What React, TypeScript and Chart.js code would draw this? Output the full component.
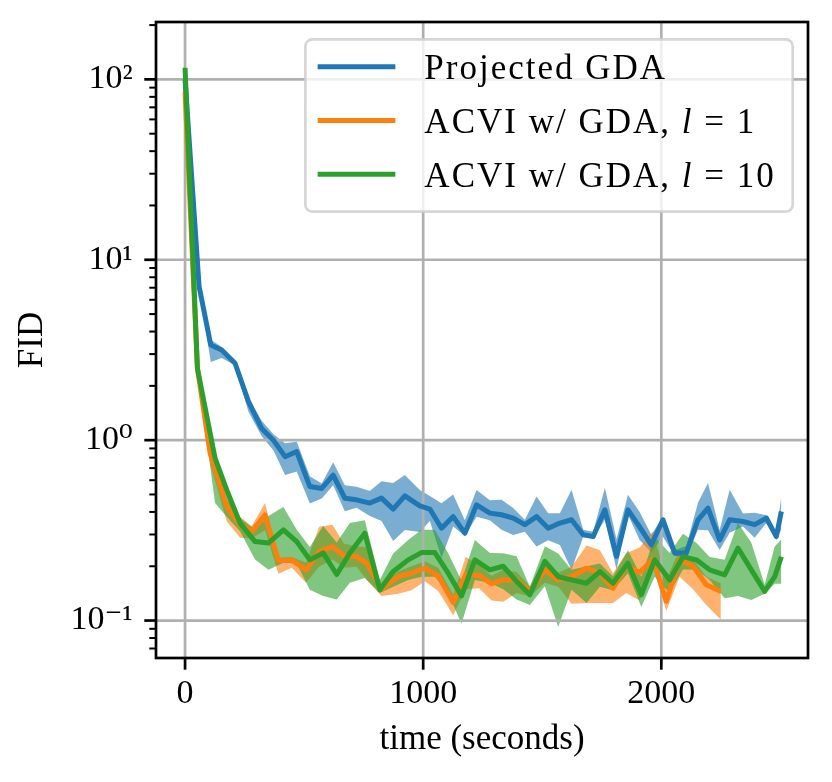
import React, { useEffect, useRef } from 'react';
import { Chart, registerables } from 'chart.js';

Chart.register(...registerables);

const SERIF = '"Liberation Serif", "DejaVu Serif", "Times New Roman", serif';

// ---------------- data ----------------
const seriesLabels = ['Projected GDA', 'ACVI w/ GDA, l = 1', 'ACVI w/ GDA, l = 10'];
const lineColors = ['#1f77b4', '#ff7f0e', '#2ca02c'];
const bandColors = ['rgba(31,119,180,0.6)', 'rgba(255,127,14,0.6)', 'rgba(44,160,44,0.6)'];

const xTicks = [0, 1000, 2000];
const yMajorTicks = [0.1, 1, 10, 100];
const yTickLabels = ['10⁻¹', '10⁰', '10¹', '10²'];
const xLabel = 'time (seconds)';
const yLabel = 'FID';

const blueT = [0, 59, 108, 154, 210, 266, 322, 371, 420, 469, 524, 574, 622, 671, 720, 776, 825, 874, 923, 986, 1028, 1077, 1126, 1175, 1224, 1280, 1329, 1378, 1427, 1476, 1525, 1574, 1623, 1672, 1714, 1763, 1812, 1860, 1909, 1958, 2007, 2056, 2105, 2154, 2196, 2245, 2287, 2343, 2392, 2441, 2483, 2504];
const blueMean = [100, 7.1, 3.37, 3.16, 2.67, 1.64, 1.16, 1.0, 0.81, 0.865, 0.553, 0.54, 0.64, 0.477, 0.467, 0.448, 0.477, 0.415, 0.491, 0.432, 0.415, 0.325, 0.377, 0.305, 0.438, 0.394, 0.386, 0.37, 0.34, 0.377, 0.325, 0.347, 0.362, 0.299, 0.292, 0.411, 0.227, 0.411, 0.33, 0.263, 0.362, 0.237, 0.237, 0.362, 0.42, 0.28, 0.362, 0.354, 0.34, 0.37, 0.292, 0.402];
const blueUpper = [102, 7.3, 3.6, 3.28, 2.74, 1.72, 1.28, 1.08, 0.96, 0.98, 0.63, 0.575, 0.755, 0.563, 0.551, 0.522, 0.592, 0.578, 0.64, 0.53, 0.49, 0.447, 0.5, 0.36, 0.53, 0.465, 0.467, 0.42, 0.362, 0.487, 0.394, 0.394, 0.531, 0.319, 0.311, 0.544, 0.282, 0.498, 0.4, 0.299, 0.376, 0.246, 0.259, 0.45, 0.578, 0.318, 0.531, 0.392, 0.396, 0.384, 0.303, 0.487];
const blueLower = [98, 6.9, 2.71, 2.85, 2.6, 1.44, 1.05, 0.88, 0.64, 0.67, 0.445, 0.475, 0.563, 0.404, 0.422, 0.38, 0.356, 0.276, 0.318, 0.31, 0.356, 0.222, 0.332, 0.294, 0.376, 0.36, 0.319, 0.298, 0.311, 0.257, 0.279, 0.262, 0.191, 0.291, 0.285, 0.362, 0.192, 0.386, 0.28, 0.238, 0.291, 0.228, 0.228, 0.319, 0.317, 0.246, 0.307, 0.332, 0.288, 0.347, 0.281, 0.32];

const orangeT = [0, 52, 105, 175, 231, 280, 336, 392, 448, 508, 563, 619, 667, 720, 766, 825, 895, 951, 1007, 1063, 1126, 1179, 1235, 1287, 1336, 1392, 1448, 1511, 1567, 1623, 1686, 1742, 1797, 1853, 1909, 1965, 2021, 2077, 2133, 2189, 2250];
const orangeMean = [85, 2.5, 0.85, 0.43, 0.34, 0.312, 0.385, 0.215, 0.217, 0.191, 0.241, 0.257, 0.229, 0.226, 0.206, 0.15, 0.175, 0.183, 0.195, 0.177, 0.126, 0.18, 0.178, 0.16, 0.168, 0.168, 0.145, 0.191, 0.168, 0.175, 0.195, 0.183, 0.151, 0.2, 0.185, 0.218, 0.128, 0.217, 0.2, 0.158, 0.145];
const orangeUpper = [86, 2.56, 0.906, 0.47, 0.376, 0.333, 0.449, 0.223, 0.225, 0.209, 0.331, 0.34, 0.267, 0.257, 0.256, 0.16, 0.187, 0.2, 0.213, 0.196, 0.139, 0.226, 0.202, 0.177, 0.191, 0.186, 0.155, 0.217, 0.184, 0.199, 0.261, 0.245, 0.183, 0.236, 0.254, 0.312, 0.169, 0.247, 0.219, 0.175, 0.161];
const orangeLower = [84, 2.44, 0.748, 0.355, 0.288, 0.285, 0.318, 0.182, 0.196, 0.162, 0.199, 0.218, 0.196, 0.199, 0.166, 0.137, 0.141, 0.147, 0.165, 0.146, 0.107, 0.149, 0.151, 0.129, 0.127, 0.142, 0.136, 0.162, 0.154, 0.124, 0.125, 0.125, 0.125, 0.142, 0.129, 0.2, 0.113, 0.175, 0.149, 0.122, 0.101];

const greenT = [0, 52, 126, 175, 231, 294, 350, 413, 469, 524, 580, 637, 692, 755, 818, 874, 937, 993, 1049, 1105, 1161, 1217, 1280, 1336, 1392, 1448, 1511, 1567, 1623, 1686, 1742, 1797, 1860, 1916, 1972, 2035, 2091, 2147, 2203, 2266, 2322, 2378, 2434, 2476, 2504];
const greenMean = [116, 2.5, 0.795, 0.53, 0.347, 0.274, 0.269, 0.318, 0.274, 0.217, 0.237, 0.18, 0.237, 0.305, 0.148, 0.187, 0.217, 0.238, 0.238, 0.183, 0.137, 0.217, 0.191, 0.2, 0.165, 0.139, 0.213, 0.175, 0.168, 0.161, 0.187, 0.161, 0.208, 0.139, 0.217, 0.168, 0.226, 0.217, 0.191, 0.179, 0.252, 0.191, 0.145, 0.175, 0.226];
const greenUpper = [118, 2.6, 0.816, 0.551, 0.37, 0.319, 0.38, 0.426, 0.319, 0.256, 0.334, 0.271, 0.347, 0.36, 0.168, 0.235, 0.28, 0.319, 0.319, 0.236, 0.166, 0.28, 0.237, 0.236, 0.227, 0.154, 0.258, 0.235, 0.191, 0.2, 0.207, 0.176, 0.245, 0.175, 0.291, 0.237, 0.303, 0.27, 0.225, 0.217, 0.347, 0.27, 0.158, 0.257, 0.281];
const greenLower = [114, 2.4, 0.448, 0.376, 0.313, 0.218, 0.191, 0.209, 0.207, 0.148, 0.137, 0.131, 0.162, 0.172, 0.142, 0.154, 0.168, 0.175, 0.175, 0.142, 0.096, 0.168, 0.162, 0.149, 0.131, 0.122, 0.155, 0.092, 0.148, 0.125, 0.154, 0.147, 0.183, 0.119, 0.175, 0.142, 0.192, 0.191, 0.168, 0.133, 0.137, 0.13, 0.141, 0.16, 0.16];

// ---------------- helpers ----------------
const pts = (t: number[], v: number[]) => t.map((x, i) => ({ x, y: v[i] }));

function makeSeries(idx: number, t: number[], mean: number[], up: number[], lo: number[], order: number) {
  return [
    {
      label: seriesLabels[idx],
      data: pts(t, mean),
      borderColor: lineColors[idx],
      backgroundColor: lineColors[idx],
      borderWidth: 5,
      borderJoinStyle: 'round',
      pointRadius: 0,
      fill: false,
      tension: 0,
      order,
      isSeries: true,
    },
    {
      label: seriesLabels[idx] + ' (upper)',
      data: pts(t, up),
      borderColor: 'rgba(0,0,0,0)',
      backgroundColor: bandColors[idx],
      borderWidth: 0,
      pointRadius: 0,
      fill: '+1',
      tension: 0,
      order,
    },
    {
      label: seriesLabels[idx] + ' (lower)',
      data: pts(t, lo),
      borderColor: 'rgba(0,0,0,0)',
      backgroundColor: 'rgba(0,0,0,0)',
      borderWidth: 0,
      pointRadius: 0,
      fill: false,
      tension: 0,
      order,
    },
  ];
}

const gridPlugin = {
  id: 'mplGrid',
  beforeDatasetsDraw(chart: any) {
    const { ctx, chartArea: a, scales } = chart;
    ctx.save();
    ctx.beginPath();
    ctx.rect(a.left, a.top, a.right - a.left, a.bottom - a.top);
    ctx.clip();
    ctx.strokeStyle = '#b0b0b0';
    ctx.lineWidth = 2.7;
    for (const v of xTicks) {
      const px = scales.x.getPixelForValue(v);
      ctx.beginPath();
      ctx.moveTo(px, a.top);
      ctx.lineTo(px, a.bottom);
      ctx.stroke();
    }
    for (const v of yMajorTicks) {
      const py = scales.y.getPixelForValue(v);
      ctx.beginPath();
      ctx.moveTo(a.left, py);
      ctx.lineTo(a.right, py);
      ctx.stroke();
    }
    ctx.restore();
  },
};

const frameTicksPlugin = {
  id: 'mplFrame',
  afterDraw(chart: any) {
    const { ctx, chartArea: a, scales } = chart;
    ctx.save();
    ctx.strokeStyle = '#000';
    ctx.lineWidth = 2.7;
    for (const v of xTicks) {
      const px = scales.x.getPixelForValue(v);
      ctx.beginPath();
      ctx.moveTo(px, a.bottom);
      ctx.lineTo(px, a.bottom + 11.7);
      ctx.stroke();
    }
    const yMin = scales.y.min;
    const yMax = scales.y.max;
    for (let k = -3; k <= 3; k++) {
      for (let m = 1; m <= 9; m++) {
        const v = m * Math.pow(10, k);
        if (v < yMin || v > yMax) continue;
        const py = scales.y.getPixelForValue(v);
        const major = m === 1;
        ctx.lineWidth = major ? 2.7 : 2;
        ctx.beginPath();
        ctx.moveTo(a.left, py);
        ctx.lineTo(a.left - (major ? 11.7 : 6.7), py);
        ctx.stroke();
      }
    }
    ctx.lineWidth = 2.7;
    ctx.strokeRect(a.left, a.top, a.right - a.left, a.bottom - a.top);
    ctx.restore();
  },
};

function drawRich(ctx: CanvasRenderingContext2D, text: string, x: number, y: number, size: number, draw: boolean) {
  const parts = text.split(/(\bl\b)/);
  let cx = x;
  for (const p of parts) {
    if (!p) continue;
    ctx.font = (p === 'l' ? 'italic ' : '') + `${size}px ${SERIF}`;
    if (draw) ctx.fillText(p, cx, y);
    cx += ctx.measureText(p).width;
  }
  return cx - x;
}

const legendPlugin = {
  id: 'mplLegend',
  afterDraw(chart: any) {
    const { ctx, chartArea: a } = chart;
    const items = chart.data.datasets.filter((d: any) => d.isSeries);
    const size = 35;
    ctx.save();
    (ctx as any).letterSpacing = '2px';
    let maxW = 0;
    for (const it of items) maxW = Math.max(maxW, drawRich(ctx, it.label, 0, 0, size, false));
    const right = a.right - 15.3;
    const top = a.top + 17.3;
    const textOff = 119;
    const width = textOff + maxW + 17;
    const left = right - width;
    const height = 172.4;
    ctx.beginPath();
    if ((ctx as any).roundRect) (ctx as any).roundRect(left, top, width, height, 7);
    else ctx.rect(left, top, width, height);
    ctx.fillStyle = 'rgba(255,255,255,0.8)';
    ctx.fill();
    ctx.lineWidth = 2.7;
    ctx.strokeStyle = 'rgba(204,204,204,0.8)';
    ctx.stroke();
    items.forEach((it: any, i: number) => {
      const cy = top + 27.4 + i * 53.8;
      ctx.strokeStyle = it.borderColor;
      ctx.lineWidth = 5;
      ctx.lineCap = 'butt';
      ctx.beginPath();
      ctx.moveTo(left + 12.3, cy);
      ctx.lineTo(left + 90, cy);
      ctx.stroke();
      ctx.fillStyle = '#000';
      ctx.textBaseline = 'alphabetic';
      ctx.textAlign = 'left';
      drawRich(ctx, it.label, left + textOff, cy + 12.6, size, true);
    });
    ctx.restore();
  },
};

export default function App() {
  const ref = useRef<HTMLCanvasElement>(null);
  useEffect(() => {
    const canvas = ref.current;
    if (!canvas) return;
    const datasets = [
      ...makeSeries(0, blueT, blueMean, blueUpper, blueLower, 3),
      ...makeSeries(1, orangeT, orangeMean, orangeUpper, orangeLower, 2),
      ...makeSeries(2, greenT, greenMean, greenUpper, greenLower, 1),
    ];
    const chart = new Chart(canvas, {
      type: 'line',
      data: { datasets: datasets as any },
      options: {
        animation: false,
        responsive: false,
        events: [],
        layout: { padding: { left: 0, right: 24, top: 22, bottom: 0 } },
        plugins: {
          legend: { display: false },
          tooltip: { enabled: false },
          filler: { drawTime: 'beforeDatasetsDraw' } as any,
        },
        scales: {
          x: {
            type: 'linear',
            min: -122,
            max: 2616,
            grid: { display: false, drawTicks: false },
            border: { display: false },
            afterBuildTicks: (s: any) => { s.ticks = xTicks.map((v) => ({ value: v })); },
            afterFit: (s: any) => { s.height = 124; s.paddingLeft = 0; s.paddingRight = 0; },
            ticks: {
              color: '#000',
              padding: 15.8,
              maxRotation: 0,
              autoSkip: false,
              font: { family: SERIF, size: 34 },
              callback: (v: any) => String(v),
            },
            title: {
              display: true,
              text: xLabel,
              color: '#000',
              font: { family: SERIF, size: 35 },
              padding: { top: 0, bottom: 21 },
            },
          },
          y: {
            type: 'logarithmic',
            min: 0.062,
            max: 208,
            grid: { display: false, drawTicks: false },
            border: { display: false },
            afterBuildTicks: (s: any) => { s.ticks = yMajorTicks.map((v) => ({ value: v })); },
            afterFit: (s: any) => { s.width = 156; s.paddingTop = 0; s.paddingBottom = 0; },
            ticks: {
              color: '#000',
              padding: 23.4,
              autoSkip: false,
              font: { family: SERIF, size: 34 },
              callback: (v: any) => {
                const i = yMajorTicks.findIndex((m) => Math.abs(m - Number(v)) < m * 1e-6);
                return i >= 0 ? yTickLabels[i] : '';
              },
            },
            title: {
              display: true,
              text: yLabel,
              color: '#000',
              font: { family: SERIF, size: 35 },
              padding: { top: 12, bottom: 0 },
            },
          },
        },
      } as any,
      plugins: [gridPlugin, frameTicksPlugin, legendPlugin],
    });
    return () => chart.destroy();
  }, []);
  return (
    <div style={{ position: 'fixed', left: 0, top: 0, width: 832, height: 782, background: '#fff' }}>
      <canvas ref={ref} width={832} height={782} style={{ display: 'block', width: 832, height: 782 }} />
    </div>
  );
}
